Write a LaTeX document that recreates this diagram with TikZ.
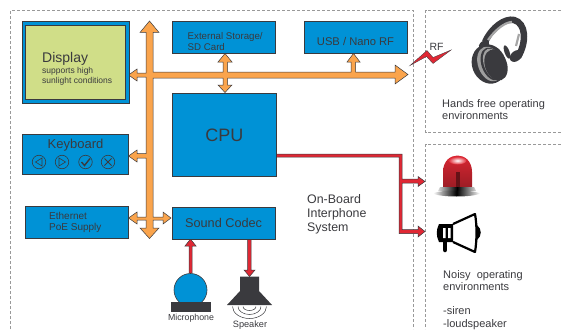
\documentclass[tikz,border=0pt]{standalone}
\usepackage{fontspec}
\setmainfont{Liberation Sans}
\definecolor{boardblue}{RGB}{0, 146, 214}
\definecolor{panelgreen}{RGB}{208, 222, 136}
\definecolor{busorange}{RGB}{250, 164, 76}
\definecolor{sigred}{RGB}{224, 40, 52}
\definecolor{inkgray}{RGB}{58, 58, 62}
\usetikzlibrary{positioning, calc, arrows.meta}
\tikzset{
  unitbox/.style={draw=inkgray, line width=0.7pt, fill=boardblue, text=inkgray, inner sep=0pt, anchor=north west},
  zonebox/.style={draw=gray!80, densely dashed, line width=0.4pt},
  bus/.style={draw=inkgray, line width=0.5pt, fill=busorange},
  sigline/.style={draw=inkgray, line width=0.5pt, fill=sigred},
  caption/.style={text=inkgray, align=left, anchor=west, inner sep=0pt, font=\fontsize{11}{12.5}\selectfont},
}
\begin{document}
\begin{tikzpicture}[x=1pt, y=-1pt]
  \useasboundingbox (0,0) rectangle (561,329);

  % dashed zones
  \draw[zonebox] (10.5,329) -- (10.5,10.5) -- (413.5,10.5) -- (413.5,329);
  \draw[zonebox] (561,10.5) -- (425.5,10.5) -- (425.5,132.5) -- (561,132.5);
  \draw[zonebox] (561,144.5) -- (425.5,144.5) -- (425.5,329);

  % orange bus
  \draw[bus] (146,73) -- (146,32.5) -- (140,32.5) -- (149.5,21) -- (159,32.5) -- (153,32.5)
    -- (153,72) -- (223,72) -- (223,62) -- (218,62) -- (225,53.5) -- (232,62) -- (227.5,62)
    -- (227.5,72) -- (351,72) -- (351,62) -- (347,62) -- (353.5,53.5) -- (360,62) -- (355.5,62)
    -- (355.5,72) -- (395,72) -- (395,65) -- (408,74.5) -- (395,84) -- (395,78)
    -- (227.5,78) -- (227.5,85) -- (232,85) -- (225,92.5) -- (218,85) -- (223,85) -- (223,78)
    -- (153,78) -- (153,217) -- (163,217) -- (163,212) -- (171,218) -- (163,224) -- (163,220)
    -- (153,220) -- (153,228) -- (159,228) -- (149.5,238.5) -- (140,228) -- (146,228)
    -- (146,220) -- (137,220) -- (137,224) -- (128.5,218) -- (137,212) -- (137,217) -- (146,217)
    -- (146,158) -- (137,158) -- (137,162) -- (128.5,156) -- (137,150) -- (137,153.5) -- (146,153.5)
    -- (146,77) -- (137,77) -- (137,81) -- (128.5,75) -- (137,69) -- (137,73) -- cycle;

  % red signal lines
  \draw[sigline] (276,154) -- (402,154) -- (402,179) -- (418,179) -- (418,176.5) -- (425,181.5) -- (418,186.5)
    -- (418,183) -- (402,183) -- (402,229.5) -- (418,229.5) -- (418,226) -- (425,231.5) -- (418,237)
    -- (418,233.5) -- (399,233.5) -- (399,157) -- (276,157) -- cycle;
  \draw[sigline] (189,273) -- (189,246) -- (185,246) -- (190.5,239) -- (196,246) -- (192,246) -- (192,273) -- cycle;
  \draw[sigline] (247.5,239) -- (247.5,270) -- (244,270) -- (249.5,276.5) -- (255,270) -- (251,270) -- (251,239) -- cycle;

  % display
  \node[unitbox, minimum width=107pt, minimum height=81pt] (display) at (21.5,21.5) {};
  \node[draw=inkgray, line width=0.7pt, fill=panelgreen, minimum width=99.5pt, minimum height=74pt, inner sep=0pt, anchor=north west] (panel) at (25,25) {};
  \node[caption, font=\fontsize{14}{16}\selectfont] (displaytitle) at (42,58.5) {Display};
  \node[caption, font=\fontsize{8.5}{10}\selectfont] (displaynote) at (42,76.5) {supports high\\sunlight conditions};

  % units
  \node[unitbox, minimum width=106pt, minimum height=40pt] (keyboard) at (21.5,133.5) {};
  \node[text=inkgray, font=\fontsize{13}{15}\selectfont, inner sep=0pt] (keylabel) at (75.5,145.5) {Keyboard};
  \node[unitbox, minimum width=103pt, minimum height=31.5pt] (ethernet) at (24.5,206) {};
  \node[caption, font=\fontsize{10}{11.5}\selectfont] (ethlabel) at (49,222.5) {Ethernet\\PoE Supply};
  \node[unitbox, minimum width=103.5pt, minimum height=31.5pt, font=\fontsize{12.7}{14}\selectfont] (codec) at (171.5,207) {Sound Codec};
  \node[unitbox, minimum width=103.5pt, minimum height=31.5pt] (storage) at (171.5,21.5) {};
  \node[caption, font=\fontsize{9.7}{11}\selectfont] (storagelabel) at (187.5,41.5) {External Storage/\\SD Card};
  \node[unitbox, minimum width=103.5pt, minimum height=31.5pt] (usb) at (303.5,21.5) {};
  \node[text=inkgray, font=\fontsize{11.2}{13}\selectfont, inner sep=0pt] (usblabel) at (355.5,41.5) {USB / Nano RF};
  \node[unitbox, minimum width=104pt, minimum height=83pt, font=\fontsize{18}{20}\selectfont] (cpu) at (172,93) {CPU};

  % keyboard keys
  \foreach \kx/\kname in {39/a,62/b,85.5/c,108/d}{
    \node[draw=inkgray, circle, line width=0.6pt, minimum size=13.5pt, inner sep=0pt] (key\kname) at (\kx,162) {};
  }
  \draw[inkgray, line width=0.6pt] (35.5,162) -- (42,158) -- (42,166) -- cycle;
  \draw[inkgray, line width=0.6pt] (65.5,162) -- (59,158) -- (59,166) -- cycle;
  \draw[inkgray, line width=1.4pt] (81.5,162) -- (84.5,165.5) -- (90,158.5);
  \draw[inkgray, line width=1pt] (104.5,158.5) -- (111.5,165.5) (111.5,158.5) -- (104.5,165.5);

  % microphone
  \node[draw=inkgray, circle, fill=boardblue, line width=0.6pt, minimum size=33pt, inner sep=0pt] (mic) at (190.5,290) {};
  \fill[inkgray] (171,302) rectangle (211,311.5);
  \node[text=inkgray, font=\fontsize{8.8}{10}\selectfont, inner sep=0pt] (miclabel) at (191,318.5) {Microphone};

  % speaker
  \fill[inkgray] (240,276.5) -- (259,276.5) -- (259,291) -- (272,305) -- (227,305) -- (240,291) -- cycle;
  \draw[inkgray, line width=0.5pt] (232.5,306.5) arc[start angle=180, end angle=360, x radius=17, y radius=-12];
  \draw[inkgray, line width=0.5pt] (238,306.5) arc[start angle=180, end angle=360, x radius=11.5, y radius=-8];
  \draw[inkgray, line width=0.5pt] (243,306.5) arc[start angle=180, end angle=360, x radius=6.5, y radius=-4];
  \node[text=inkgray, font=\fontsize{9.2}{11}\selectfont, inner sep=0pt] (spklabel) at (250,325.5) {Speaker};

  % RF bolt
  \draw[draw=inkgray, line width=0.3pt, fill=sigred] (410,65.5) -- (427,50.5) -- (433,57.5) -- (451,50) -- (433,63.5) -- (426.5,56.5) -- cycle;
  \node[font=\fontsize{10.5}{12}\selectfont, text=inkgray, inner sep=0pt] (rflabel) at (436.5,47) {RF};

  % headphones
  \draw[draw=inkgray, line width=6.5pt] (485,42) .. controls (492,27) and (505,18) .. (514,20) .. controls (526,23) and (527,42) .. (518,57);
  \draw[draw=gray!70, line width=2.2pt] (488,40) .. controls (495,30) and (505,22) .. (512,22);
  \draw[draw=gray!70, line width=2.2pt] (519,34) -- (516,46);
  \fill[inkgray, rotate around={20:(507,52)}] (507,52) ellipse (2.5pt and 7pt);
  \fill[inkgray, rotate around={40:(516,56)}] (516,56) ellipse (7pt and 5pt);
  \fill[inkgray, rotate around={40:(484,45)}] (484,45) ellipse (6pt and 4pt);
  \fill[inkgray, rotate around={20:(489,64)}] (489,64) ellipse (17pt and 20pt);
  \fill[gray!75, rotate around={20:(490,64)}] (490,64) ellipse (12pt and 18pt);
  \fill[inkgray, rotate around={20:(492,64)}] (492,64) ellipse (10.5pt and 17pt);
  \fill[gray!75, rotate around={20:(493,64)}] (493,64) ellipse (9pt and 16pt);
  \fill[inkgray, rotate around={20:(496,65)}] (496,65) ellipse (11pt and 16pt);
  \node[caption] (handslabel) at (442,109.5) {Hands free operating\\environments};

  % beacon
  \shade[top color=sigred, bottom color=sigred!70!black] (443,187) -- (443,172) .. controls (443,150) and (472,150) .. (472,172) -- (472,187) -- cycle;
  \shade[inner color=white, outer color=sigred] (457.5,160.5) ellipse (9pt and 4pt);
  \fill[sigred!45!black] (455.5,172) rectangle (460,187);
  \shade[left color=gray!30, right color=gray!30, middle color=black] (440,187) -- (474,187) -- (476,191) -- (438,191) -- cycle;
  \shade[left color=white, right color=white, middle color=black] (433,193.5) .. controls (440,189.5) and (473,189.5) .. (480,193.5) .. controls (473,197.5) and (440,197.5) .. (433,193.5) -- cycle;

  % loudspeaker
  \draw[black, line width=2.2pt, line join=round] (453,224) -- (475,214) .. controls (477,225) and (477,240) .. (475,252) -- (453,242);
  \fill[black] (439,224) -- (453,224) -- (453,242) -- (439,242) .. controls (436,236) and (436,230) .. (439,224) -- cycle;
  \fill[white] (443,228) rectangle (445.5,238) (448,228) rectangle (450.5,238);
  \draw[black, line width=4.5pt, line cap=round] (445,242) -- (445,250);
  \fill[black] (477,225) .. controls (482,229) and (482,236) .. (477,240) -- cycle;

  % zone captions
  \node[caption, font=\fontsize{12.4}{14}\selectfont] (boardlabel) at (307,214) {On-Board\\Interphone\\System};
  \node[caption] (noisylabel) at (443,280.5) {Noisy\ \ operating\\environments};
  \node[caption, anchor=north west] (noisylist) at (443,306.5) {-siren\\-loudspeaker};
\end{tikzpicture}
\end{document}
